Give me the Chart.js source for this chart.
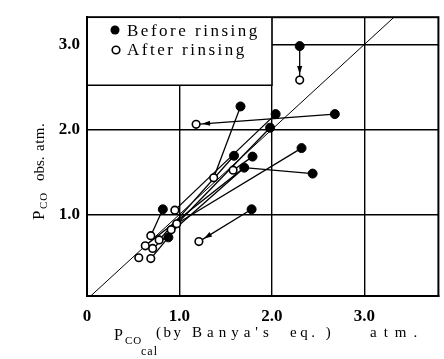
<!DOCTYPE html>
<html>
<head>
<meta charset="utf-8">
<script src="https://cdn.jsdelivr.net/npm/chart.js@4.4.1/dist/chart.umd.min.js"></script>
<style>
  html, body { margin: 0; padding: 0; background: #fff; }
  #caixa { width: 444px; height: 359px; }
</style>
</head>
<body>
<div id="caixa"><canvas id="graficoPco"></canvas></div>
<script>
// valores (atm)
const beforeX = [2.30, 2.68, 1.78, 1.66, 2.04, 1.98, 2.32, 1.59, 1.79, 1.70, 2.44, 0.82, 0.88];
const beforeY = [2.98, 2.18, 1.06, 2.27, 2.18, 2.02, 1.78, 1.69, 1.68, 1.55, 1.48, 1.06, 0.73];
const afterX = [2.30, 1.18, 1.21, 1.37, 0.95, 0.91, 0.97, 0.78, 1.58, 0.71, 0.63, 0.69, 0.69, 0.56];
const afterY = [2.58, 2.06, 0.68, 1.43, 1.05, 0.82, 0.89, 0.70, 1.52, 0.60, 0.63, 0.75, 0.48, 0.49];
// ponto intermediario de algumas ligacoes (null = reta direta)
const viaX = [null, null, null, null, null, null, null, null, null, null, 1.70, null, null];
const viaY = [null, null, null, null, null, null, null, null, null, null, 1.55, null, null];
const arrowLinks = [0, 1, 2];
const diagonal = [0.04, 3.32];
const xTicks = [0, 1, 2, 3];
const yTicks = [1, 2, 3];

const serif = '"Liberation Serif", "DejaVu Serif", serif';

const links = beforeX.map((bx, i) => {
    const pts = [{ x: bx, y: beforeY[i] }];
    if (viaX[i] !== null) pts.push({ x: viaX[i], y: viaY[i] });
    pts.push({ x: afterX[i], y: afterY[i] });
    return {
        type: 'line',
        data: pts,
        borderColor: '#000',
        borderWidth: 1.3,
        pointRadius: 0,
        fill: false,
        order: 3
    };
});

// escreve texto com espacamento entre letras
function texto(ctx, s, x, y, font, sp) {
    ctx.font = font + ' ' + serif;
    ctx.letterSpacing = sp + 'px';
    ctx.fillText(s, x, y);
}

// setas, legenda, moldura e titulos dos eixos
const extras = {
    id: 'extras',
    afterDatasetsDraw(chart) {
        const ctx = chart.ctx;
        const sx = chart.scales.x, sy = chart.scales.y;
        ctx.save();
        ctx.fillStyle = '#000';
        arrowLinks.forEach(i => {
            const fx = viaX[i] !== null ? viaX[i] : beforeX[i];
            const fy = viaY[i] !== null ? viaY[i] : beforeY[i];
            const px = sx.getPixelForValue(fx), py = sy.getPixelForValue(fy);
            const ax = sx.getPixelForValue(afterX[i]), ay = sy.getPixelForValue(afterY[i]);
            const len = Math.hypot(ax - px, ay - py);
            const dx = (ax - px) / len, dy = (ay - py) / len;
            const tx = ax - dx * 6, ty = ay - dy * 6;
            ctx.beginPath();
            ctx.moveTo(tx, ty);
            ctx.lineTo(tx - dx * 8 - dy * 2.6, ty - dy * 8 + dx * 2.6);
            ctx.lineTo(tx - dx * 8 + dy * 2.6, ty - dy * 8 - dx * 2.6);
            ctx.closePath();
            ctx.fill();
        });
        ctx.restore();
    },
    afterDraw(chart) {
        const ctx = chart.ctx;
        const a = chart.chartArea;
        const sx = chart.scales.x, sy = chart.scales.y;
        ctx.save();
        // moldura
        ctx.strokeStyle = '#000';
        ctx.lineWidth = 2;
        ctx.strokeRect(a.left, a.top, a.right - a.left, a.bottom - a.top);

        // legenda
        const lr = sx.getPixelForValue(2.0);
        const lb = sy.getPixelForValue(2.52);
        ctx.fillStyle = '#fff';
        ctx.fillRect(a.left + 1, a.top + 1, lr - a.left - 1, lb - a.top - 1);
        ctx.lineWidth = 1.5;
        ctx.beginPath();
        ctx.moveTo(lr, a.top);
        ctx.lineTo(lr, lb);
        ctx.lineTo(a.left, lb);
        ctx.stroke();
        ctx.fillStyle = '#000';
        ctx.beginPath();
        ctx.arc(115, 30, 4.5, 0, Math.PI * 2);
        ctx.fill();
        ctx.fillStyle = '#fff';
        ctx.lineWidth = 1.6;
        ctx.beginPath();
        ctx.arc(116, 50, 3.8, 0, Math.PI * 2);
        ctx.fill();
        ctx.stroke();
        ctx.fillStyle = '#000';
        ctx.textBaseline = 'alphabetic';
        ctx.textAlign = 'left';
        texto(ctx, 'Before rinsing', 127, 36, '17px', 2.5);
        texto(ctx, 'After rinsing', 127, 55, '17px', 2.5);

        // titulo eixo x
        texto(ctx, 'P', 114, 340, '16px', 0);
        texto(ctx, 'CO', 125, 344, '11px', 1);
        texto(ctx, 'cal', 141, 355, '12px', 1);
        texto(ctx, '(by', 156, 337, '15px', 2.5);
        texto(ctx, "Banya's", 192, 337, '15px', 5);
        texto(ctx, 'eq. )', 290, 337, '15px', 3.5);
        texto(ctx, 'atm.', 370, 337, '15px', 7);

        // titulo eixo y
        ctx.translate(44, 220);
        ctx.rotate(-Math.PI / 2);
        texto(ctx, 'P', 0, 0, '17px', 0);
        texto(ctx, 'CO', 11, 3, '11px', 1);
        texto(ctx, 'obs.', 39, 0, '15px', 0);
        texto(ctx, 'atm.', 69, 0, '15px', 0.5);
        ctx.restore();
    }
};

const grafico = document.getElementById('graficoPco');

const graficoPco = new Chart(grafico, {
    type: 'scatter',
    data: {
        datasets: [
            {
                label: 'Before rinsing',
                data: beforeX.map((x, i) => ({ x: x, y: beforeY[i] })),
                backgroundColor: '#000',
                borderColor: '#000',
                pointRadius: 4.5,
                order: 2
            },
            {
                label: 'After rinsing',
                data: afterX.map((x, i) => ({ x: x, y: afterY[i] })),
                backgroundColor: '#fff',
                borderColor: '#000',
                borderWidth: 1.6,
                pointRadius: 3.8,
                order: 1
            },
            {
                type: 'line',
                data: diagonal.map(v => ({ x: v, y: v })),
                borderColor: '#000',
                borderWidth: 1,
                pointRadius: 0,
                fill: false,
                order: 4
            },
            ...links
        ]
    },
    options: {
        responsive: true,
        maintainAspectRatio: false,
        animation: false,
        devicePixelRatio: 1,
        layout: { padding: { top: 8, right: 5, left: 0, bottom: 0 } },
        plugins: {
            legend: { display: false },
            tooltip: { enabled: false }
        },
        scales: {
            x: {
                type: 'linear',
                min: 0,
                max: 3.8,
                afterBuildTicks: s => { s.ticks = xTicks.map(v => ({ value: v })); },
                afterFit: s => { s.height = 63; },
                grid: { color: '#000', lineWidth: 1.4, drawTicks: false },
                border: { display: true, color: '#000', width: 2 },
                ticks: {
                    color: '#000',
                    padding: 10,
                    font: { family: serif, size: 17, weight: 'bold' },
                    callback: v => v === 0 ? '0' : v.toFixed(1)
                }
            },
            y: {
                type: 'linear',
                min: 0.04,
                max: 3.32,
                afterBuildTicks: s => { s.ticks = yTicks.map(v => ({ value: v })); },
                afterFit: s => { s.width = 87; },
                grid: { color: '#000', lineWidth: 1.4, drawTicks: false },
                border: { display: true, color: '#000', width: 2 },
                ticks: {
                    color: '#000',
                    padding: 7,
                    font: { family: serif, size: 17, weight: 'bold' },
                    callback: v => v.toFixed(1)
                }
            }
        }
    },
    plugins: [extras]
});
</script>
</body>
</html>
